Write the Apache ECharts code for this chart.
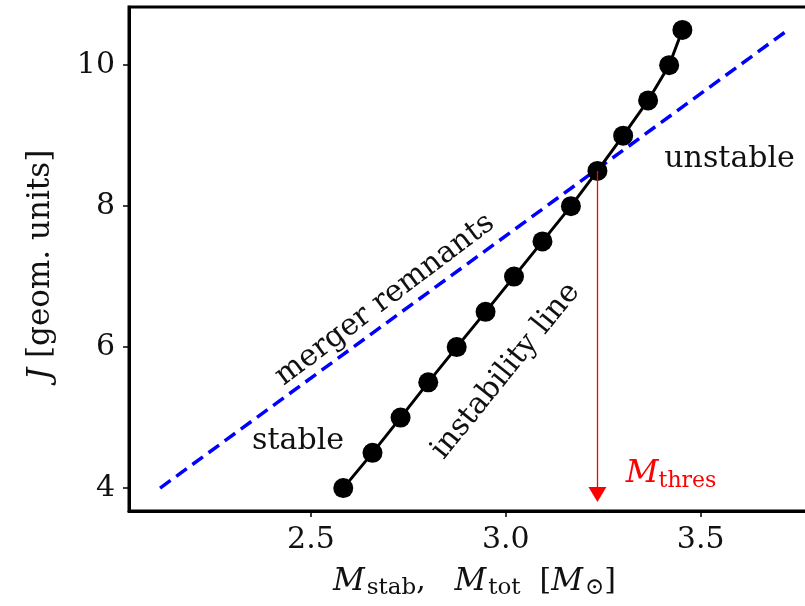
<!DOCTYPE html>
<html>
<head>
<meta charset="utf-8">
<script src="https://cdn.jsdelivr.net/npm/echarts@6/dist/echarts.min.js"></script>
<style>
html,body{margin:0;padding:0;background:#fff;}
#chart{width:805px;height:606px;}
</style>
</head>
<body>
<div id="chart"></div>
<script>
// ---- data ----
const instabilityMass = [2.583, 2.658, 2.730, 2.801, 2.874, 2.948, 3.021, 3.094, 3.167, 3.235, 3.301, 3.365, 3.419, 3.453];
const instabilityJ    = [4.0, 4.5, 5.0, 5.5, 6.0, 6.5, 7.0, 7.5, 8.0, 8.5, 9.0, 9.5, 10.0, 10.5];
const remnantMass = [2.113, 3.724];
const remnantJ    = [4.0, 10.5];
const thresholdMass = 3.235;
const thresholdJ = [8.5, 3.91];
const xTicks = [2.5, 3.0, 3.5];
const yTicks = [4, 6, 8, 10];

// annotation anchors in data units
const annotations = [
  {x: 2.69, y: 6.67, text: 'merger remnants', rotate: 37},
  {x: 3.00, y: 5.66, text: 'instability line', rotate: 51},
  {x: 2.467, y: 4.66, text: 'stable', rotate: 0},
  {x: 3.574, y: 8.66, text: 'unstable', rotate: 0}
];
const thresLabel = {x: 3.424, y: 4.20};

const FONT = 'DejaVu Serif';
const INK = '#111';
const chart = echarts.init(document.getElementById('chart'), null, {renderer: 'canvas'});

const zip = (a, b) => a.map((v, i) => [v, b[i]]);

const option = {
  animation: false,
  backgroundColor: '#fff',
  grid: {
    left: 129, top: 7, width: 691, height: 504,
    containLabel: false,
    outerBoundsMode: 'none',
    show: true, borderColor: '#000', borderWidth: 3, backgroundColor: 'transparent'
  },
  xAxis: {
    type: 'value', min: 2.0333, max: 3.806,
    splitLine: {show: false},
    axisLine: {show: true, onZero: false, lineStyle: {color: '#000', width: 3}},
    axisTick: {show: true, length: 6, customValues: xTicks, lineStyle: {color: '#000', width: 1.5}},
    axisLabel: {customValues: xTicks, formatter: v => v.toFixed(1), fontFamily: FONT, fontSize: 30, color: INK, margin: 14},
    name: '{i|M}{s|stab}{r|,   }{i|M}{s|tot}{r|  [}{i|M}{s|⊙}{r|]}',
    nameLocation: 'middle', nameGap: 52,
    nameTextStyle: {
      rich: {
        i: {fontFamily: FONT, fontStyle: 'italic', fontSize: 31, color: INK, padding: [0, 2, 0, 0]},
        s: {fontFamily: FONT, fontSize: 23, color: INK, padding: [14, 0, 0, 0]},
        r: {fontFamily: FONT, fontSize: 30, color: INK}
      }
    }
  },
  yAxis: {
    type: 'value', min: 3.675, max: 10.825,
    splitLine: {show: false},
    axisLine: {show: true, onZero: false, lineStyle: {color: '#000', width: 3}},
    axisTick: {show: true, length: 6, customValues: yTicks, lineStyle: {color: '#000', width: 1.5}},
    axisLabel: {customValues: yTicks, fontFamily: FONT, fontSize: 30, color: INK, margin: 14},
    name: '{i|J}{r| [geom. units]}',
    nameLocation: 'middle', nameGap: 73,
    nameTextStyle: {
      padding: [0, 12, 0, 0],
      rich: {
        i: {fontFamily: FONT, fontStyle: 'italic', fontSize: 31, color: INK},
        r: {fontFamily: FONT, fontSize: 31, color: INK}
      }
    }
  },
  series: [
    {
      name: 'threshold', type: 'line', z: 1,
      data: [], symbol: 'none',
      markLine: {
        silent: true, animation: false,
        symbol: ['none', 'triangle'], symbolSize: [18, 15],
        label: {show: false},
        lineStyle: {color: '#ff0000', width: 1.3, type: 'solid'},
        data: [[{coord: [thresholdMass, thresholdJ[0]]}, {coord: [thresholdMass, thresholdJ[1]]}]]
      }
    },
    {
      name: 'merger remnants', type: 'line', z: 2,
      data: zip(remnantMass, remnantJ), symbol: 'none',
      lineStyle: {color: '#0000ff', width: 3.5, type: [13, 7]}
    },
    {
      name: 'instability line', type: 'line', z: 3,
      data: zip(instabilityMass, instabilityJ),
      symbol: 'circle', symbolSize: 20,
      itemStyle: {color: '#000'},
      lineStyle: {color: '#000', width: 3}
    },
    {
      name: 'annotations', type: 'scatter', z: 4, symbolSize: 0, silent: true,
      itemStyle: {opacity: 1},
      data: annotations.map(a => ({
        value: [a.x, a.y],
        label: {show: true, position: 'inside', formatter: a.text, rotate: a.rotate,
                fontFamily: FONT, fontSize: 30, color: INK, align: 'center', verticalAlign: 'middle'}
      })).concat([{
        value: [thresLabel.x, thresLabel.y],
        label: {show: true, position: 'inside', align: 'center', verticalAlign: 'middle',
                formatter: '{i|M}{s|thres}',
                rich: {
                  i: {fontFamily: FONT, fontStyle: 'italic', fontSize: 32, color: '#ff0000'},
                  s: {fontFamily: FONT, fontSize: 22, color: '#ff0000', padding: [14, 0, 0, 0]}
                }}
      }])
    }
  ]
};
chart.setOption(option);
</script>
</body>
</html>
